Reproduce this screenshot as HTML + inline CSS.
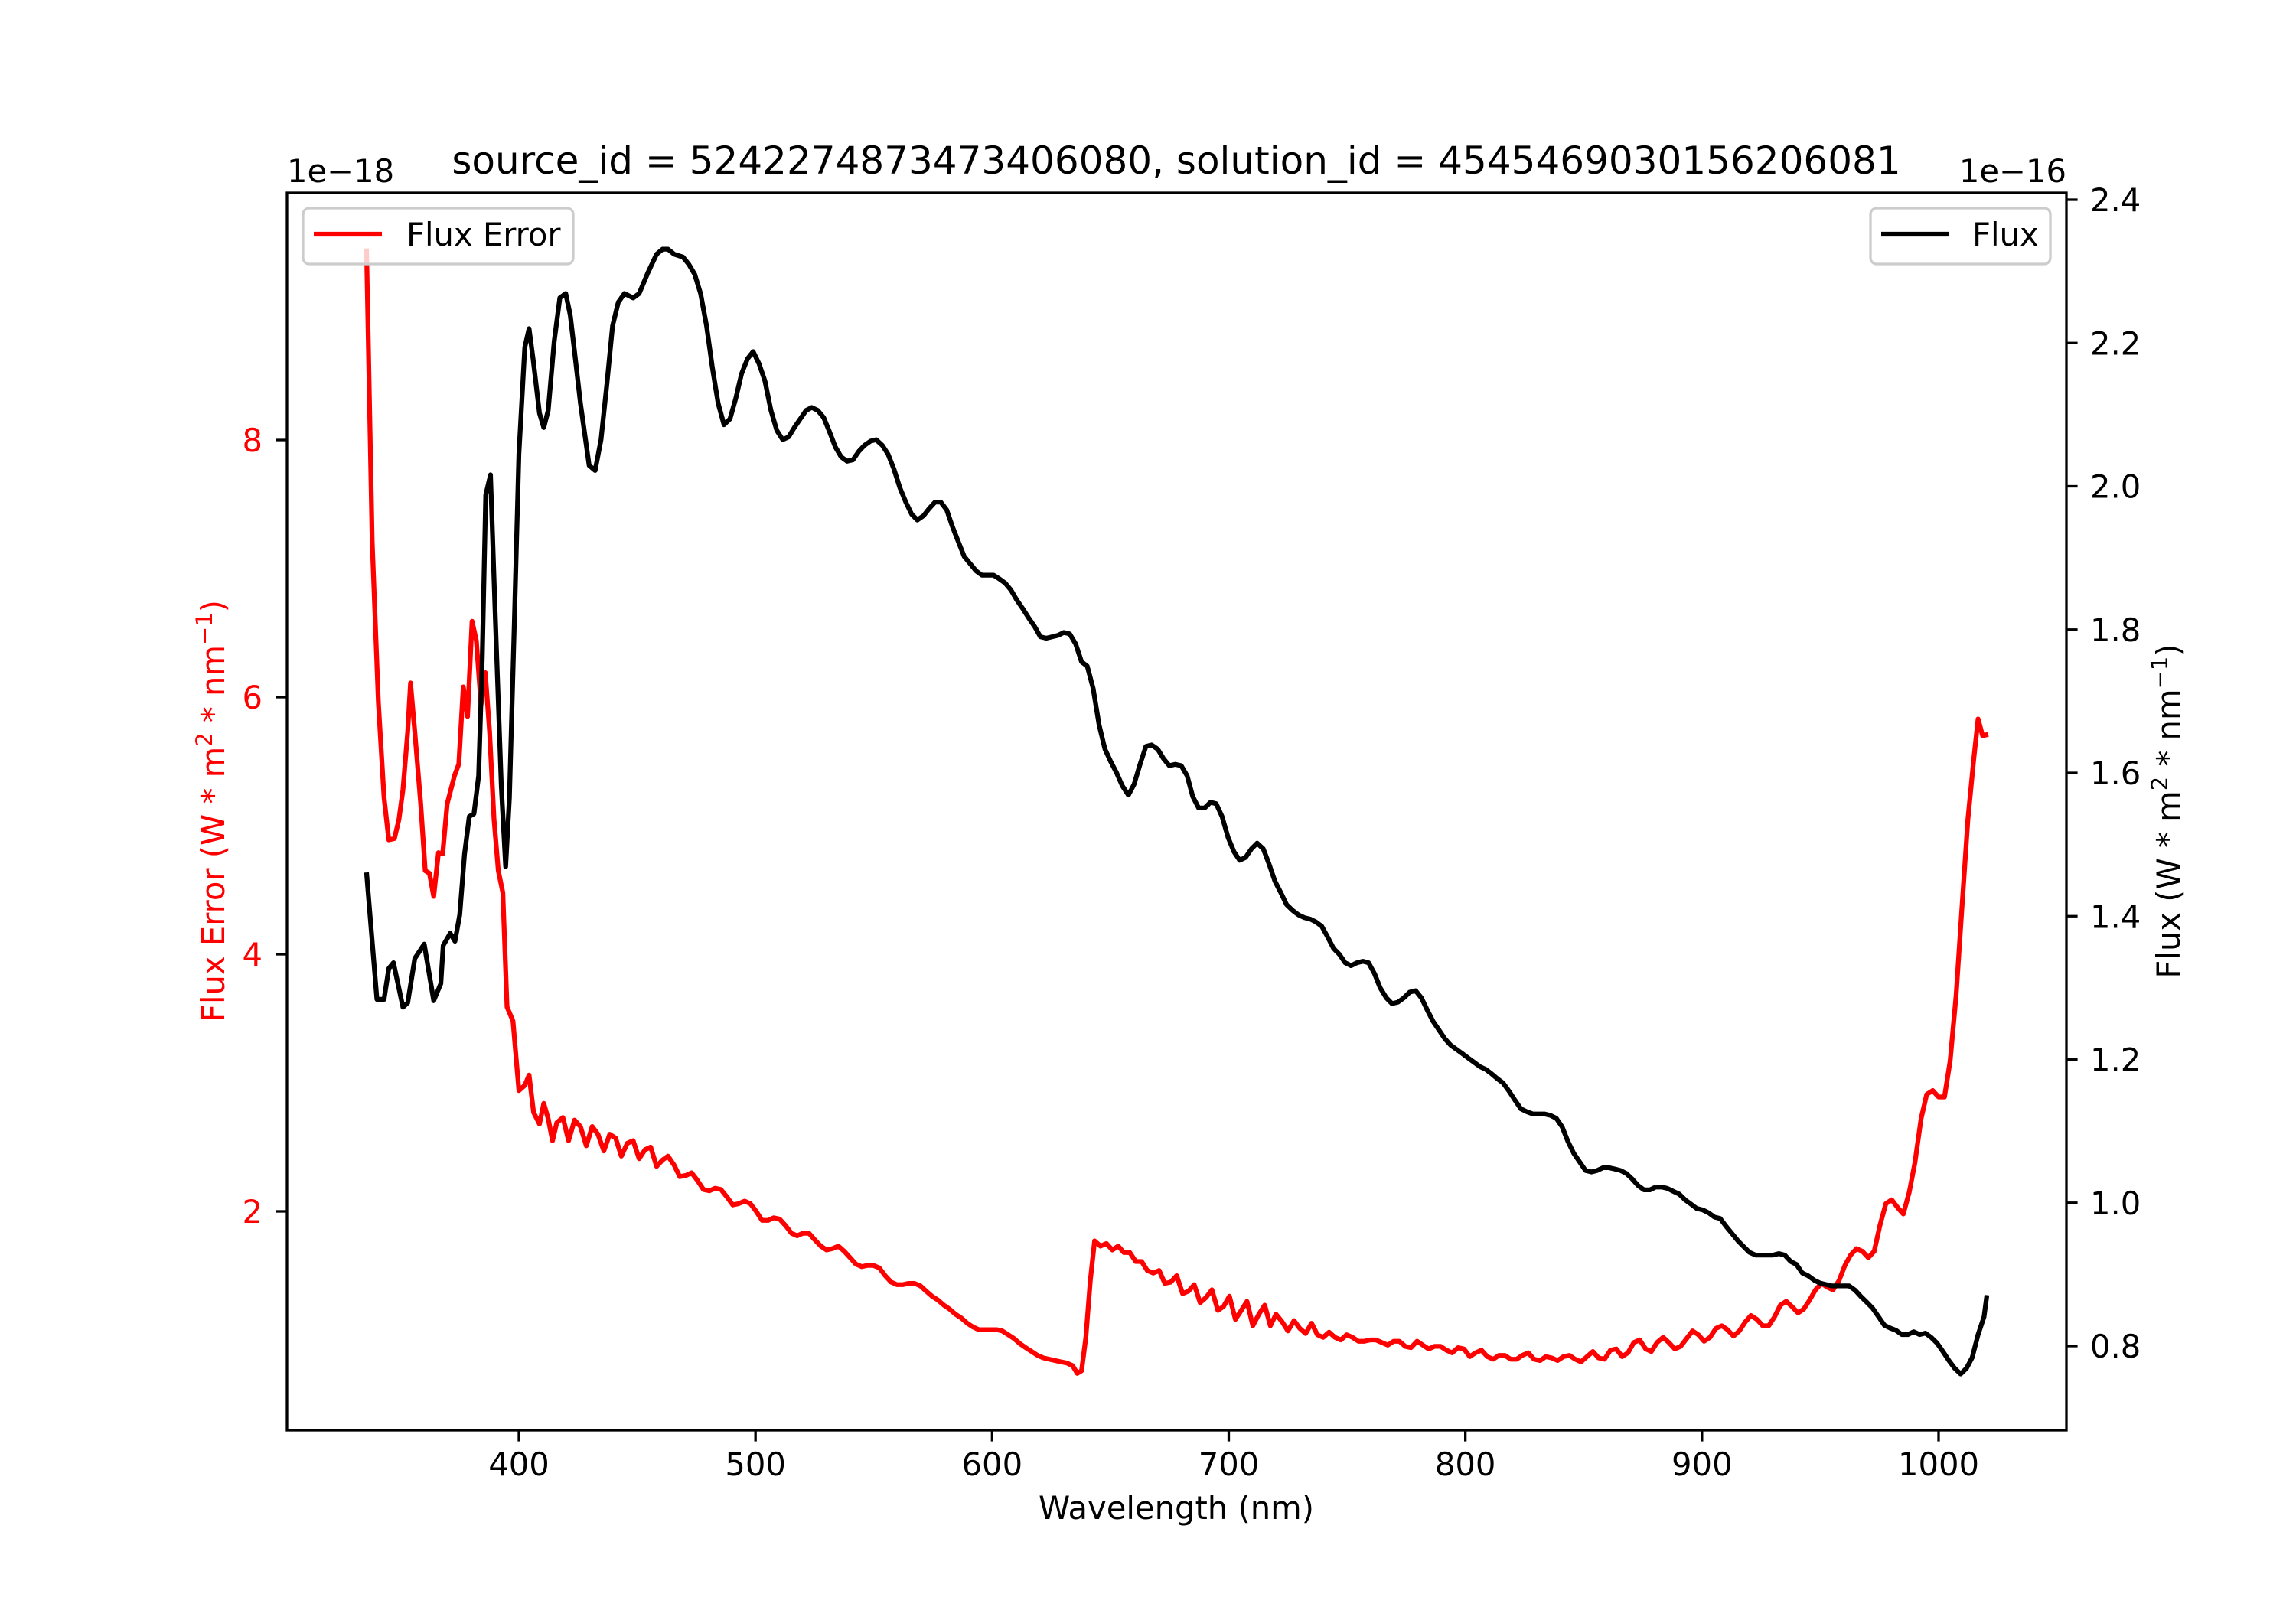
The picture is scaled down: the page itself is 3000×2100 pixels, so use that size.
<!DOCTYPE html>
<html><head><meta charset="utf-8"><style>
html,body{margin:0;padding:0;background:#fff;}
svg{display:block;font-family:"DejaVu Sans","Liberation Sans",sans-serif;}
</style></head><body>
<svg id="chart" width="3000" height="2100" viewBox="0 0 3000 2100" xmlns="http://www.w3.org/2000/svg">
<rect x="0" y="0" width="3000" height="2100" fill="#fff"/>
<text x="1537" y="227" font-size="50" text-anchor="middle">source_id = 5242274873473406080, solution_id = 4545469030156206081</text>
<text x="375" y="238" font-size="41.7">1e−18</text>
<text x="2700" y="238" font-size="41.7" text-anchor="end">1e−16</text>
<g id="xticks"></g>
<g id="lticks"></g>
<g id="rticks"></g>
<text x="1537" y="1985" font-size="41.7" text-anchor="middle">Wavelength (nm)</text>
<text transform="translate(293,1060) rotate(-90)" font-size="41.7" text-anchor="middle" fill="#ff0000">Flux Error (W * m<tspan font-size="29" dy="-16">2</tspan><tspan dy="16"> * nm</tspan><tspan font-size="29" dy="-16">−1</tspan><tspan dy="16">)</tspan></text>
<text transform="translate(2848,1060) rotate(-90)" font-size="41.7" text-anchor="middle">Flux (W * m<tspan font-size="29" dy="-16">2</tspan><tspan dy="16"> * nm</tspan><tspan font-size="29" dy="-16">−1</tspan><tspan dy="16">)</tspan></text>
<g id="plot"></g>
</svg>
<script>
const wlErr = [335.6,338,340.6,343,345,347.4,349.3,351,353,354.2,356,358.5,360.4,362.2,364,366,367.8,369.7,372.8,374.6,376.5,378.3,380.2,382,384,385.8,387.6,389.5,391.3,393.2,395,397.5,400,402.5,404.3,406.2,408.7,410.5,412.4,414.2,416,418.6,421,423.5,426,428.5,431,433.4,435.9,438.4,440.9,443.3,445.8,448.3,450.8,453.3,455.7,458.2,460.7,463,465.6,468,470.6,473,475.5,478,480.5,483,485.4,488,490.4,492.9,495.4,497.8,500.3,502.8,505.3,507.7,510.2,512.7,515.2,517.6,520,522.6,525,527.6,530,532.5,535,537.5,540,542.4,544.9,547.4,549.8,552.3,554.8,557.3,559.8,562.2,564.7,567.2,569.7,572.1,574.6,577.1,579.6,582,584.5,587,589.5,592,594.4,596.9,599.4,601.9,604.3,606.8,609.3,611.8,614.2,616.7,619.2,621.7,624.1,626.6,629,631.6,634,636,637.8,639.6,641.5,643.3,645.8,648.3,650.8,653.3,655.7,658.2,660.7,663.2,665.6,668.1,670.6,673,675.5,678,680.5,683,685.4,687.9,690.4,692.9,695.4,697.8,700.3,702.8,705.3,707.7,710.2,712.7,715.2,717.6,720,722.6,725,727.6,730,732.5,735,737.5,739.9,742.4,744.9,747.4,749.8,752.3,754.8,757.3,759.8,762.2,764.7,767.2,769.7,772.1,774.6,777,779.6,782,784.5,787,789.5,792,794.4,796.9,799.4,801.9,804.3,806.8,809.3,811.8,814.2,816.7,819.2,821.7,824,826.6,829,831.6,834,836.5,839,841.5,844,846.4,848.9,851.4,853.9,856.3,858.8,861.3,863.8,866.3,868.7,871.2,873.7,876.2,878.6,881,883.6,886,888.5,891,893.5,896,898.5,900.9,903.4,905.9,908.4,910.8,913.3,915.8,918.3,920.7,923.2,925.7,928.2,930.7,933.1,935.6,938,940.6,943,945.5,948,950.5,953,955.4,957.9,960.4,962.8,965.3,967.8,970.3,972.8,975.2,977.7,980.2,982.7,985.1,987.6,990,992.6,995,997.5,1000,1002.5,1004.9,1007.4,1009.9,1012.4,1014.8,1016.7,1018.6,1021];
const fluxErr = [9.49,7.21,5.96,5.22,4.89,4.90,5.05,5.28,5.73,6.11,5.73,5.17,4.65,4.63,4.45,4.79,4.78,5.17,5.39,5.48,6.08,5.85,6.59,6.44,5.94,6.19,5.73,5.05,4.65,4.48,3.59,3.48,2.94,2.98,3.06,2.77,2.68,2.84,2.72,2.55,2.69,2.73,2.55,2.71,2.66,2.51,2.66,2.60,2.47,2.60,2.57,2.43,2.53,2.55,2.41,2.48,2.50,2.35,2.40,2.43,2.36,2.27,2.28,2.30,2.24,2.17,2.16,2.18,2.17,2.11,2.05,2.06,2.08,2.06,2.00,1.93,1.93,1.95,1.94,1.89,1.83,1.81,1.83,1.83,1.78,1.73,1.70,1.71,1.73,1.69,1.64,1.59,1.57,1.58,1.58,1.56,1.50,1.45,1.43,1.43,1.44,1.44,1.42,1.38,1.34,1.31,1.27,1.24,1.20,1.17,1.13,1.10,1.08,1.08,1.08,1.08,1.07,1.04,1.01,0.97,0.94,0.91,0.88,0.86,0.85,0.84,0.83,0.82,0.80,0.74,0.76,1.02,1.46,1.77,1.73,1.75,1.70,1.73,1.68,1.68,1.61,1.61,1.54,1.52,1.54,1.44,1.45,1.50,1.36,1.38,1.43,1.29,1.33,1.39,1.23,1.26,1.34,1.16,1.23,1.30,1.11,1.20,1.27,1.11,1.20,1.14,1.07,1.15,1.09,1.05,1.13,1.04,1.02,1.06,1.02,1.00,1.04,1.02,0.99,0.99,1.00,1.00,0.98,0.96,0.99,0.99,0.95,0.94,0.99,0.96,0.93,0.95,0.95,0.92,0.90,0.94,0.93,0.87,0.90,0.92,0.87,0.85,0.88,0.88,0.85,0.85,0.88,0.90,0.85,0.84,0.87,0.86,0.84,0.87,0.88,0.85,0.83,0.87,0.91,0.86,0.85,0.92,0.93,0.87,0.90,0.98,1.00,0.93,0.91,0.98,1.02,0.98,0.93,0.95,1.01,1.07,1.04,0.99,1.02,1.09,1.11,1.08,1.03,1.07,1.14,1.19,1.16,1.11,1.11,1.18,1.27,1.30,1.26,1.21,1.24,1.31,1.39,1.44,1.41,1.39,1.46,1.58,1.66,1.71,1.69,1.64,1.69,1.89,2.06,2.09,2.03,1.98,2.15,2.38,2.72,2.91,2.94,2.89,2.89,3.17,3.68,4.37,5.05,5.51,5.83,5.70,5.71];
const wlFlux = [335.6,340,343,345,347,351,353,356,360,364,367,368,371,373,375,377,379,381,383,384.5,386,388,390,392.6,394.4,396,398,400,402.5,404.3,406,408.7,410.5,412.4,414.9,417.3,419.8,421.7,423.5,426,429.7,432.2,434.7,437.2,439.6,442,444.6,448.3,450.8,454.5,458.2,460.7,463,465.6,469.3,471.8,474.3,476.8,479.3,481.7,484.2,486.7,489.2,491.6,494.1,496.6,499,501.5,504,506.5,509,511.5,514,516.4,518.9,521.4,523.8,526.3,528.8,531.3,533.7,536.2,538.7,541.2,543.7,546,548.6,551,553.6,556,558.5,561,563.5,566,568.4,571,573.4,575.9,578.3,580.8,583.3,585.8,588.2,590.7,593.2,595.7,598.1,600.6,603,605.5,608,610.5,613,615.5,618,620.4,622.9,625.4,627.9,630.3,632.8,635.3,637.8,640.2,642.7,645.2,647.7,650.1,652.6,655,657.6,660,662.5,665,667.4,670,672.4,674.9,677.4,679.9,682.4,684.8,687.3,689.8,692.3,694.7,697.2,699.7,702.2,704.6,707.1,709.6,712,714.6,717,719.5,722,724.5,727,729.4,731.9,734.4,736.8,739.3,741.8,744.3,746.7,749.2,751.7,754.2,756.7,759.1,761.6,764,766.6,769,771.5,774,776.5,779,781.4,783.9,786.4,788.9,791.3,793.8,796.3,798.8,801.2,803.7,806.2,808.7,811.1,813.6,816,818.6,821,823.5,826,828.5,831,833.4,835.9,838.4,840.9,843.3,845.8,848.3,850.8,853.3,855.7,858.2,860.7,863.2,865.6,868,870.6,873,875.5,878,880.5,883,885.4,887.9,890.4,892.9,895.4,897.8,900.3,902.8,905.3,907.7,910.2,912.7,915.2,917.6,920,922.6,925,927.6,930,932.5,935,937.5,939.9,942.4,944.9,947.4,949.8,952.3,954.8,957.3,959.8,962.2,964.7,967.2,969.7,972.1,974.6,977.1,979.6,982,984.5,987,989.5,992,994.4,996.9,999.4,1001.9,1004.3,1006.8,1009.3,1011.8,1014.2,1016.7,1019.2,1020.4];
const fluxVal = [1.461,1.284,1.284,1.327,1.335,1.273,1.279,1.341,1.361,1.282,1.306,1.359,1.376,1.365,1.402,1.486,1.539,1.543,1.596,1.759,1.988,2.016,1.820,1.580,1.469,1.565,1.8,2.045,2.194,2.220,2.178,2.102,2.082,2.106,2.202,2.263,2.269,2.239,2.188,2.116,2.029,2.022,2.065,2.143,2.224,2.257,2.269,2.263,2.269,2.298,2.324,2.331,2.331,2.324,2.320,2.310,2.296,2.269,2.224,2.167,2.116,2.086,2.094,2.122,2.157,2.178,2.188,2.171,2.147,2.106,2.078,2.065,2.069,2.082,2.094,2.106,2.110,2.106,2.096,2.076,2.055,2.041,2.035,2.037,2.049,2.057,2.063,2.065,2.057,2.045,2.024,1.998,1.978,1.961,1.953,1.959,1.969,1.978,1.978,1.967,1.943,1.922,1.902,1.892,1.882,1.876,1.876,1.876,1.871,1.865,1.855,1.841,1.829,1.816,1.804,1.790,1.788,1.790,1.792,1.796,1.794,1.780,1.755,1.749,1.718,1.667,1.633,1.616,1.600,1.582,1.569,1.584,1.612,1.637,1.639,1.633,1.620,1.610,1.612,1.610,1.596,1.567,1.551,1.551,1.559,1.557,1.539,1.510,1.490,1.478,1.482,1.494,1.502,1.494,1.473,1.449,1.433,1.416,1.408,1.402,1.398,1.396,1.392,1.386,1.371,1.355,1.347,1.335,1.331,1.335,1.337,1.335,1.320,1.300,1.286,1.278,1.280,1.286,1.294,1.296,1.286,1.269,1.253,1.241,1.229,1.220,1.214,1.208,1.202,1.196,1.190,1.186,1.180,1.173,1.167,1.155,1.143,1.131,1.127,1.124,1.124,1.124,1.122,1.118,1.106,1.086,1.069,1.057,1.045,1.043,1.045,1.049,1.049,1.047,1.045,1.041,1.033,1.024,1.018,1.018,1.022,1.022,1.020,1.016,1.012,1.004,0.998,0.992,0.990,0.986,0.980,0.978,0.967,0.957,0.947,0.939,0.931,0.927,0.927,0.927,0.927,0.929,0.927,0.918,0.914,0.902,0.898,0.892,0.888,0.886,0.884,0.884,0.884,0.884,0.878,0.869,0.861,0.853,0.841,0.829,0.825,0.822,0.816,0.816,0.820,0.816,0.818,0.812,0.804,0.792,0.780,0.769,0.761,0.769,0.784,0.816,0.841,0.871];
const xTickVals = [400,500,600,700,800,900,1000];
const leftTickVals = [2,4,6,8];
const rightTickVals = [0.8,1.0,1.2,1.4,1.6,1.8,2.0,2.2,2.4];
const rightTickLabels = ["0.8","1.0","1.2","1.4","1.6","1.8","2.0","2.2","2.4"];

const NS = "http://www.w3.org/2000/svg";
const L = 375, R = 2700, T = 252, B = 1869;
const x = v => 678 + (v - 400) * (2533 - 678) / 600;
const yE = v => 1583 - (v - 2) * (1583 - 575) / 6;
const yF = v => 1759 - (v - 0.8) * (1759 - 261) / 1.6;
function mk(tag, attrs, parent, txt){ const e = document.createElementNS(NS, tag); for (const k in attrs) e.setAttribute(k, attrs[k]); if (txt !== undefined) e.textContent = txt; parent.appendChild(e); return e; }
const plot = document.getElementById('plot');
const clip = mk('clipPath', {id:'clipArea'}, plot);
mk('rect', {x:L, y:T, width:R-L, height:B-T}, clip);

const errPath = mk('path', {d: wlErr.map((w,i)=>(i?'L':'M')+x(w).toFixed(1)+','+yE(fluxErr[i]).toFixed(1)).join(''), fill:'none', stroke:'#ff0000', 'stroke-width':6.25, 'stroke-linejoin':'round', 'clip-path':'url(#clipArea)'}, plot);



const lg1 = mk('g', {}, plot);


mk('rect', {x:396, y:272, width:353, height:73, rx:8, fill:'#fff', 'fill-opacity':0.8, stroke:'#cccccc', 'stroke-width':3.3}, lg1);
mk('line', {x1:410, y1:306, x2:499, y2:306, stroke:'#ff0000', 'stroke-width':6.25}, lg1);
mk('text', {x:531, y:321, 'font-size':41.7}, lg1, 'Flux Error');

const fluxPath = mk('path', {d: wlFlux.map((w,i)=>(i?'L':'M')+x(w).toFixed(1)+','+yF(fluxVal[i]).toFixed(1)).join(''), fill:'none', stroke:'#000', 'stroke-width':6.25, 'stroke-linejoin':'round', 'clip-path':'url(#clipArea)'}, plot);



const lg2 = mk('g', {}, plot);


mk('rect', {x:2444, y:272, width:235, height:73, rx:8, fill:'#fff', 'fill-opacity':0.8, stroke:'#cccccc', 'stroke-width':3.3}, lg2);
mk('line', {x1:2458, y1:306, x2:2547, y2:306, stroke:'#000', 'stroke-width':6.25}, lg2);
mk('text', {x:2577, y:321, 'font-size':41.7}, lg2, 'Flux');

const frame = mk('rect', {x:L, y:T, width:R-L, height:B-T, fill:'none', stroke:'#000', 'stroke-width':3.3}, plot);



const xg = document.getElementById('xticks');
xTickVals.forEach(v=>{
  mk('line', {x1:x(v), y1:B, x2:x(v), y2:B+14.6, stroke:'#000', 'stroke-width':3.3}, xg);
  const t = mk('text', {x:x(v), y:1928, 'font-size':41.7, 'text-anchor':'middle'}, xg, String(v));
  
  
});
const lgp = document.getElementById('lticks');
leftTickVals.forEach(v=>{
  mk('line', {x1:L-14.6, y1:yE(v), x2:L, y2:yE(v), stroke:'#000', 'stroke-width':3.3}, lgp);
  const t = mk('text', {x:343, y:yE(v)+15, 'font-size':41.7, 'text-anchor':'end', fill:'#ff0000'}, lgp, String(v));
  
  
});
const rgp = document.getElementById('rticks');
rightTickVals.forEach((v,i)=>{
  mk('line', {x1:R, y1:yF(v), x2:R+14.6, y2:yF(v), stroke:'#000', 'stroke-width':3.3}, rgp);
  const t = mk('text', {x:2731, y:yF(v)+15, 'font-size':41.7}, rgp, rightTickLabels[i]);
  
  
});
</script>
</body></html>
